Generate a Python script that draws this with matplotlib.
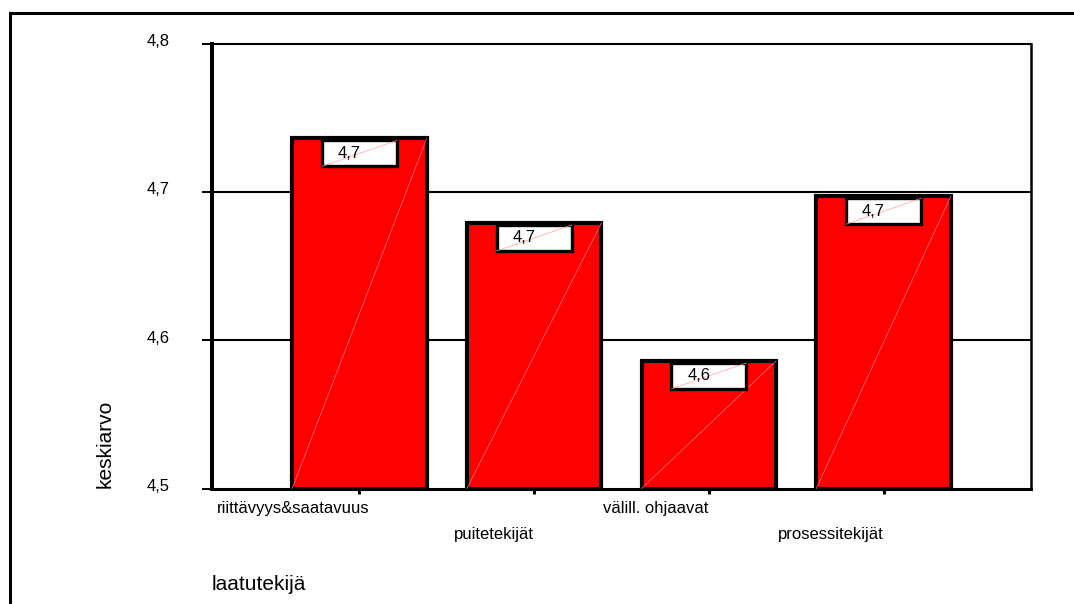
import matplotlib
matplotlib.use("Agg")
import matplotlib.pyplot as plt
from matplotlib.patches import Rectangle
from matplotlib.lines import Line2D
from matplotlib.ticker import FixedLocator, FuncFormatter
import matplotlib.transforms as mtransforms

plt.rcParams['font.family'] = ['Liberation Sans', 'DejaVu Sans']

# Mean score for each quality factor
categories = ["riittävyys&saatavuus", "puitetekijät", "välill. ohjaavat", "prosessitekijät"]
means = [4.736, 4.679, 4.586, 4.697]
y_ticks = [4.5, 4.6, 4.7, 4.8]

W, H = 1074, 604
fig = plt.figure(figsize=(W / 100, H / 100), dpi=100)
fig.patch.set_facecolor("white")

ax_l, ax_r, ax_t, ax_b = 212, 1031, 43.5, 488.5
ax = fig.add_axes([ax_l / W, (H - ax_b) / H, (ax_r - ax_l) / W, (ax_b - ax_t) / H])

ymin, ymax = 4.5, 4.8
ax.set_ylim(ymin, ymax)
ax.set_xlim(-0.844, len(categories) - 1 + 0.844)

px_per_unit = (ax_b - ax_t) / (ymax - ymin)
px_per_cat = (ax_r - ax_l) / (len(categories) - 1 + 2 * 0.844)

# horizontal reference lines
for g in [4.6, 4.7]:
    ax.axhline(g, color="black", lw=1.5, zorder=1)

bar_w = 0.77
xs = list(range(len(categories)))
ax.bar(xs, [m - ymin for m in means], bottom=ymin, width=bar_w,
       color="#ff0000", edgecolor="black", linewidth=3, zorder=2)

box_w = 75 / px_per_cat
box_h = 26 / px_per_unit
box_gap = 2.0 / px_per_unit
for x, m in zip(xs, means):
    # faint diagonal across each bar
    ax.add_line(Line2D([x - bar_w / 2, x + bar_w / 2], [ymin, m],
                       color="#ff7a7a", lw=0.5, zorder=3))
    # value label box hanging from the bar top
    top = m - box_gap
    ax.add_patch(Rectangle((x - box_w / 2, top - box_h), box_w, box_h,
                           facecolor="white", edgecolor="black", lw=2.4, zorder=4))
    ax.add_line(Line2D([x - box_w / 2, x + box_w / 2], [top - box_h, top],
                       color="#ffa0a0", lw=0.5, zorder=5))
    ax.text(x - 10 / px_per_cat, top - box_h / 2, f"{m:.1f}".replace(".", ","),
            ha="center", va="center", fontsize=12, zorder=6)

# axes styling
for side, lw in [("left", 2.9), ("bottom", 2.2), ("top", 1.5), ("right", 1.8)]:
    ax.spines[side].set_linewidth(lw)
    ax.spines[side].set_color("black")

ax.yaxis.set_major_locator(FixedLocator(y_ticks))
ax.yaxis.set_major_formatter(FuncFormatter(lambda v, p: f"{v:.1f}".replace(".", ",")))
ax.tick_params(axis="y", direction="out", length=7.2, width=1.4, pad=23,
               labelsize=12, colors="black")
# lift the value labels a touch above their ticks
lift = mtransforms.ScaledTranslation(0, 2.5 / 72, fig.dpi_scale_trans)
for lbl in ax.get_yticklabels():
    lbl.set_transform(lbl.get_transform() + lift)
ax.set_xticks(xs)
ax.set_xticklabels([])
ax.tick_params(axis="x", direction="out", length=3.5, width=2.2, colors="black")

# staggered category labels, right-aligned to their ticks
trans = mtransforms.blended_transform_factory(ax.transData, ax.transAxes)
label_rows = [-0.046, -0.104]
label_shift = [10, 0, 0, 0]
for i, name in enumerate(categories):
    ax.text(i + label_shift[i] / px_per_cat, label_rows[i % 2], name,
            transform=trans, ha="right", va="center", fontsize=12)

fig.text(105 / W, (H - 444) / H, "keskiarvo", rotation=90,
         ha="center", va="center", fontsize=15)
fig.text(212 / W, (H - 585) / H, "laatutekijä", ha="left", va="center", fontsize=15)

# outer frame (open on the right and bottom)
fig.add_artist(Line2D([10 / W, 10 / W], [0, (H - 13) / H], transform=fig.transFigure,
                      color="black", lw=2.2))
fig.add_artist(Line2D([10 / W, 1], [(H - 13) / H, (H - 13) / H], transform=fig.transFigure,
                      color="black", lw=2.2))

fig.savefig("out.png", dpi=100, facecolor="white")
